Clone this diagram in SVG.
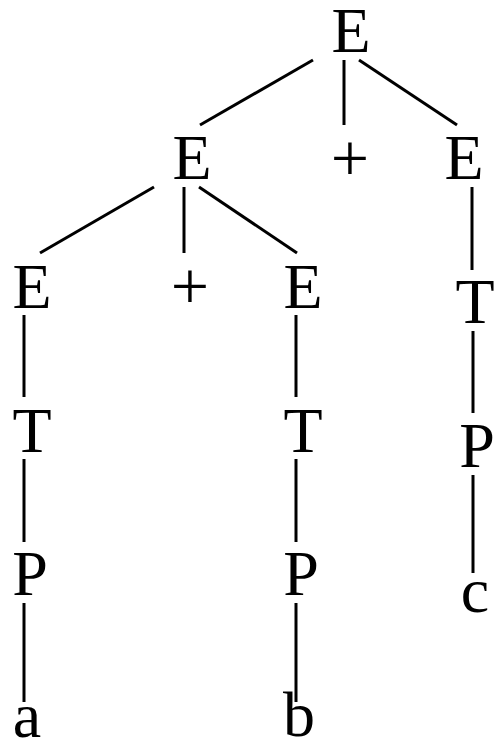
<svg xmlns="http://www.w3.org/2000/svg" width="497" height="744" viewBox="0 0 497 744">
  <style>
    .sym { font-family: "Liberation Serif", "Times New Roman", serif; font-size: 64px; fill: #000; text-anchor: middle; }
    .op { font-size: 68px; }
    .edge { stroke: #000; stroke-width: 3; fill: none; }
  </style>
  <rect width="497" height="744" fill="#fff"/>

  <!-- tree edges -->
  <g id="edges" class="edge">
    <line x1="313" y1="60" x2="200" y2="125"/>
    <line x1="344" y1="60" x2="344" y2="125"/>
    <line x1="359" y1="60" x2="457" y2="125"/>
    <line x1="154" y1="187" x2="40" y2="253"/>
    <line x1="184" y1="187" x2="184" y2="253"/>
    <line x1="199" y1="187" x2="297" y2="253"/>
    <line x1="472" y1="187" x2="472" y2="270"/>
    <line x1="24" y1="315" x2="24" y2="397"/>
    <line x1="24" y1="459" x2="24" y2="542"/>
    <line x1="24" y1="603" x2="24" y2="702"/>
    <line x1="296" y1="315" x2="296" y2="397"/>
    <line x1="296" y1="459" x2="296" y2="542"/>
    <line x1="296" y1="603" x2="296" y2="702"/>
    <line x1="473" y1="331" x2="473" y2="413"/>
    <line x1="473" y1="475" x2="473" y2="573"/>
  </g>

  <!-- grammar symbols -->
  <g id="n-root"><text class="sym" x="351" y="52">E</text></g>
  <g id="n-e1"><text class="sym" x="192" y="179">E</text></g>
  <g id="n-plus1"><text class="sym op" x="350" y="181">+</text></g>
  <g id="n-e2"><text class="sym" x="464" y="179">E</text></g>
  <g id="n-e3"><text class="sym" x="32" y="308">E</text></g>
  <g id="n-plus2"><text class="sym op" x="190" y="309">+</text></g>
  <g id="n-e4"><text class="sym" x="303" y="308">E</text></g>
  <g id="n-t1"><text class="sym" x="32" y="452">T</text></g>
  <g id="n-t2"><text class="sym" x="303" y="452">T</text></g>
  <g id="n-t3"><text class="sym" x="475" y="323">T</text></g>
  <g id="n-p1"><text class="sym" x="30" y="595">P</text></g>
  <g id="n-p2"><text class="sym" x="301" y="595">P</text></g>
  <g id="n-p3"><text class="sym" x="477" y="467">P</text></g>
  <g id="n-a"><text class="sym" x="27" y="737">a</text></g>
  <g id="n-b"><text class="sym" x="299" y="736">b</text></g>
  <g id="n-c"><text class="sym" x="475" y="612">c</text></g>
</svg>
